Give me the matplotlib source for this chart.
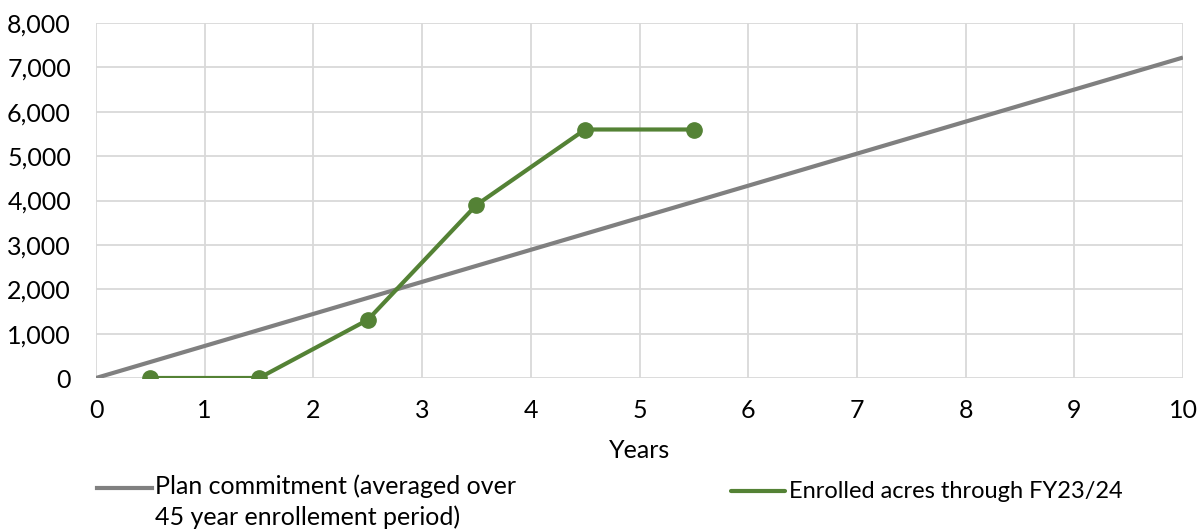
import matplotlib
matplotlib.use("Agg")
import matplotlib.pyplot as plt
from matplotlib.ticker import FuncFormatter, MultipleLocator

plt.rcParams['font.family'] = ['Lato', 'DejaVu Sans']

# Plan commitment: straight-line average over the enrollment period
plan_years = [0, 10]
plan_acres = [0, 7222]

# Enrolled acres at mid-year points
enrolled_years = [0.5, 1.5, 2.5, 3.5, 4.5, 5.5]
enrolled_acres = [0, 0, 1310, 3900, 5600, 5600]

plan_label = "Plan commitment (averaged over\n45 year enrollement period)"
enrolled_label = "Enrolled acres through FY23/24"

W, H = 1201, 531
fig = plt.figure(figsize=(W / 100, H / 100), dpi=100)
ax = fig.add_axes([96 / W, 1 - 378 / H, (1183 - 96) / W, (378 - 23) / H])

gray = "#808080"
green = "#548235"

ax.plot(plan_years, plan_acres, color=gray, lw=3, solid_capstyle="butt", zorder=3)
ax.plot(enrolled_years, enrolled_acres, color=green, lw=3, marker="o",
        markersize=11, zorder=4)

ax.set_xlim(0, 10)
ax.set_ylim(0, 8000)
ax.xaxis.set_major_locator(MultipleLocator(1))
ax.yaxis.set_major_locator(MultipleLocator(1000))
ax.yaxis.set_major_formatter(FuncFormatter(lambda v, p: f"{int(v):,}"))
ax.grid(True, color="#d9d9d9", lw=1.3, zorder=0)
for s in ax.spines.values():
    s.set_visible(False)
ax.tick_params(length=0, labelsize=18, colors="black")
ax.tick_params(axis="y", pad=18)
ax.tick_params(axis="x", pad=15)
ax.set_xlabel("Years", fontsize=18, labelpad=12)

# Legend entries drawn in figure coordinates
def fy(py):
    return 1 - py / H

fig.add_artist(plt.Line2D([97 / W, 152 / W], [fy(488), fy(488)], color=gray, lw=3,
                          transform=fig.transFigure))
fig.text(155 / W, fy(474), plan_label, fontsize=18, va="top", ha="left",
         linespacing=1.4)
fig.add_artist(plt.Line2D([731 / W, 785 / W], [fy(491), fy(491)], color=green, lw=3,
                          solid_capstyle="round", transform=fig.transFigure))
fig.text(789 / W, fy(491), enrolled_label, fontsize=17, va="center", ha="left")

fig.savefig("out.png", dpi=100)
